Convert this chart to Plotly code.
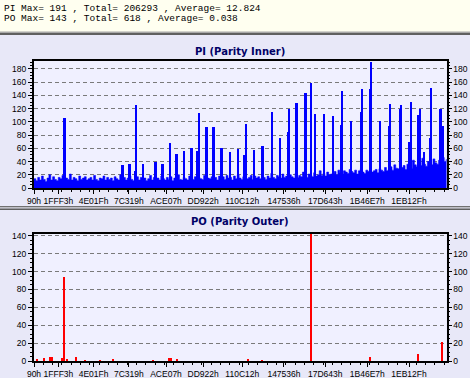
import plotly.graph_objects as go

W, H = 470, 378

# ---------------- data ----------------
header_lines = [
    "PI Max= 191 , Total= 206293 , Average= 12.824",
    "PO Max= 143 , Total= 618 , Average= 0.038",
]
pi_title = "PI (Parity Inner)"
po_title = "PO (Parity Outer)"

# x axis is the sector address (LBA); labels are hex addresses
x_tick_labels = ["90h", "1FFF3h", "4E01Fh", "7C319h", "ACE07h", "DD922h",
                 "110C12h", "147536h", "17D643h", "1B46E7h", "1EB12Fh"]
x_max_lba = 2212500

# PI background error level, one value per block of 10000 sectors starting at 90h
pi_block = 10000
pi_base = [
    14, 11, 16, 12, 18, 13, 10, 15, 20, 12,
    17, 13, 11, 16, 14, 19, 12, 15, 13, 21,
    12, 16, 14, 11, 18, 13, 15, 17, 12, 14,
    16, 12, 19, 13, 11, 15, 14, 18, 12, 16,
    13, 15, 11, 17, 14, 12, 20, 13, 16, 12,
    15, 18, 13, 11, 14, 17, 12, 16, 13, 15,
    11, 14, 19, 12, 16, 13, 15, 12, 18, 14,
    12, 16, 13, 17, 11, 15, 14, 20, 13, 12,
    16, 14, 12, 18, 15, 13, 17, 12, 16, 14,
    13, 19, 12, 15, 14, 17, 13, 16, 12, 18,
    14, 17, 13, 19, 15, 16, 12, 18, 14, 20,
    15, 13, 17, 21, 14, 16, 19, 13, 18, 15,
    17, 14, 20, 16, 13, 18, 15, 22, 16, 14,
    19, 17, 15, 21, 16, 18, 14, 20, 17, 15,
    22, 16, 19, 17, 24, 18, 16, 21, 19, 17,
    23, 18, 20, 26, 19, 22, 18, 24, 20, 21,
    22, 25, 20, 27, 23, 21, 26, 24, 22, 28,
    25, 23, 27, 21, 26, 29, 24, 22, 27, 25,
    30, 24, 26, 28, 23, 29, 27, 25, 31, 26,
    28, 32, 27, 35, 30, 29, 38, 31, 34, 28,
    36, 33, 30, 42, 35, 32, 38, 34, 45, 36,
    33, 40, 37, 35, 44, 38, 36, 42, 39, 46,
    40, 43,
]

# PI spikes (sector address, errors)
pi_spike_lba = [165000, 477000, 513000, 543000, 549000, 585000, 654000, 690000, 730000,
                766000, 807000, 847000, 877000, 887000, 923000, 927000, 964000, 966000,
                1006000, 1008000, 1052000, 1096000, 1130000, 1137000, 1181000, 1227000,
                1277000, 1322000, 1364000, 1368000, 1410000, 1454000, 1458000, 1486000,
                1509000, 1557000, 1605000, 1649000, 1655000, 1702000, 1756000, 1760000,
                1802000, 1808000, 1857000, 1905000, 1911000, 1963000, 1969000, 2013000,
                2022000, 2062000, 2072000, 2094000, 2124000, 2130000, 2178000, 2182000,
                2192000]
pi_spike_val = [106, 35, 36, 25, 126, 36, 40, 37, 68,
                51, 56, 61, 56, 114, 30, 92, 92, 40,
                45, 61, 54, 59, 50, 97, 58, 64,
                115, 76, 85, 120, 129, 110, 144, 158,
                112, 112, 109, 95, 147, 101, 115, 150,
                150, 191, 101, 93, 127, 120, 125, 70,
                130, 110, 120, 55, 75, 151, 60, 120,
                93]

# PO spikes (sector address, errors)
po_spike_lba = [16000, 54000, 87000, 97000, 151000, 164000, 177000, 225000, 274000,
                354000, 425000, 638000, 726000, 734000, 766000, 1149000, 1223000,
                1486000, 1802000, 2062000, 2192000]
po_spike_val = [2, 3, 4, 5, 3, 94, 2, 5, 1,
                1, 2, 1, 3, 3, 2, 2, 1,
                143, 4, 8, 21]

pi_range = [0, 192]
po_range = [0, 142]

# ---------------- styling ----------------
BLUE = "#0000FF"
RED = "#FF0000"
PANEL = "#E8E8F8"
PLOTBG = "#F0F0FF"
HEADER = "#FFFFF0"
TICKFONT = dict(family="Liberation Sans, Arial, sans-serif", size=8.5, color="black")


def py(y):
    return 1 - y / H


def px(x):
    return x / W


tickvals = [int(t[:-1], 16) for t in x_tick_labels]
x_min_lba = tickvals[0]

base_x = [x_min_lba + i * pi_block for i in range(len(pi_base))] + [x_min_lba + len(pi_base) * pi_block]
base_y = pi_base + [pi_base[-1]]

fig = go.Figure()
fig.add_trace(go.Scatter(x=base_x, y=base_y, mode="lines", line=dict(color=BLUE, width=0.6, shape="hv"),
                         fill="tozeroy", fillcolor=BLUE, xaxis="x", yaxis="y",
                         hoverinfo="skip", showlegend=False))
fig.add_trace(go.Bar(x=pi_spike_lba, y=pi_spike_val, width=10000,
                     marker=dict(color=BLUE, line=dict(width=0)),
                     xaxis="x", yaxis="y", showlegend=False))
fig.add_trace(go.Bar(x=po_spike_lba, y=po_spike_val, width=8000,
                     marker=dict(color=RED, line=dict(width=0)),
                     xaxis="x2", yaxis="y2", showlegend=False))
# helper traces so the right-hand mirrored axes are drawn
fig.add_trace(go.Scatter(x=[x_min_lba], y=[0], xaxis="x", yaxis="y3", mode="markers",
                         marker=dict(opacity=0), hoverinfo="skip", showlegend=False))
fig.add_trace(go.Scatter(x=[x_min_lba], y=[0], xaxis="x2", yaxis="y4", mode="markers",
                         marker=dict(opacity=0), hoverinfo="skip", showlegend=False))

xdom = [px(34), px(446.5)]
pi_dom = [py(188), py(61)]
po_dom = [py(361), py(234)]


def xax(anchor):
    return dict(domain=xdom, anchor=anchor, range=[x_min_lba, x_max_lba], tickmode="array",
                tickvals=tickvals, ticktext=x_tick_labels, ticks="outside", ticklen=4,
                tickwidth=1, tickcolor="black", showline=True, linecolor="black",
                linewidth=2, mirror=True, showgrid=False, zeroline=False,
                tickfont=TICKFONT, tickangle=0, automargin=False,
                minor=dict(ticks="outside", ticklen=2, tickcolor="black",
                           tick0=x_min_lba, dtick=50000))


def yax(dom, rng, anchor):
    return dict(domain=dom, anchor=anchor, range=rng, tick0=0, dtick=20, ticks="outside",
                ticklen=4, tickwidth=1, tickcolor="black", showline=True, linecolor="black",
                linewidth=2, mirror=True, showgrid=True, gridcolor="#7A7A7A", gridwidth=1,
                griddash="4px,3px", zeroline=False, tickfont=TICKFONT, automargin=False,
                minor=dict(ticks="outside", ticklen=2, tickcolor="black", dtick=5))


def yax_right(over, rng):
    return dict(overlaying=over, side="right", anchor="x" if over == "y" else "x2", range=rng,
                tick0=0, dtick=20, ticks="outside", ticklen=4, tickwidth=1, tickcolor="black",
                showline=False, showgrid=False, zeroline=False, tickfont=TICKFONT,
                automargin=False,
                minor=dict(ticks="outside", ticklen=2, tickcolor="black", dtick=5))


shapes = [
    dict(type="rect", xref="paper", yref="paper", x0=0, x1=1, y0=py(32), y1=1,
         fillcolor=HEADER, line=dict(width=0), layer="below"),
    dict(type="rect", xref="paper", yref="paper", x0=0, x1=1, y0=py(33), y1=py(31.5),
         fillcolor="#A8A8A8", line=dict(width=0), layer="below"),
    dict(type="rect", xref="paper", yref="paper", x0=0, x1=1, y0=py(35), y1=py(33),
         fillcolor="#606060", line=dict(width=0), layer="below"),
    dict(type="rect", xref="paper", yref="paper", x0=0, x1=1, y0=py(207.5), y1=py(206),
         fillcolor="#707070", line=dict(width=0), layer="below"),
    dict(type="rect", xref="paper", yref="paper", x0=0, x1=1, y0=py(208.5), y1=py(207.5),
         fillcolor="#D0D0D8", line=dict(width=0), layer="below"),
    dict(type="rect", xref="paper", yref="paper", x0=0, x1=1, y0=py(210), y1=py(208.5),
         fillcolor="#606060", line=dict(width=0), layer="below"),
]

HFONT = dict(family="Liberation Mono, Courier New, monospace", size=9.5, color="black")
TFONT = dict(family="DejaVu Sans, Verdana, sans-serif", size=10, color="#000066")
annotations = [
    dict(text=header_lines[0], x=px(2), y=py(8.5), xref="paper", yref="paper",
         xanchor="left", yanchor="middle", showarrow=False, font=HFONT),
    dict(text=header_lines[1], x=px(2), y=py(18.5), xref="paper", yref="paper",
         xanchor="left", yanchor="middle", showarrow=False, font=HFONT),
    dict(text="<b>" + pi_title + "</b>", x=px(240), y=py(51.5), xref="paper", yref="paper",
         xanchor="center", yanchor="middle", showarrow=False, font=TFONT),
    dict(text="<b>" + po_title + "</b>", x=px(240), y=py(221.5), xref="paper", yref="paper",
         xanchor="center", yanchor="middle", showarrow=False, font=TFONT),
]

fig.update_layout(
    width=W, height=H, margin=dict(l=0, r=0, t=0, b=0, autoexpand=False),
    paper_bgcolor=PANEL, plot_bgcolor=PLOTBG,
    barmode="overlay", bargap=0, showlegend=False,
    xaxis=xax("y"), xaxis2=xax("y2"),
    yaxis=yax(pi_dom, pi_range, "x"), yaxis2=yax(po_dom, po_range, "x2"),
    yaxis3=yax_right("y", pi_range), yaxis4=yax_right("y2", po_range),
    shapes=shapes, annotations=annotations,
)

fig.write_html(
    "out.html",
    config={"displayModeBar": False},
    post_script="document.body.style.margin='0';document.body.style.padding='0';"
                "document.body.style.overflow='hidden';",
)
